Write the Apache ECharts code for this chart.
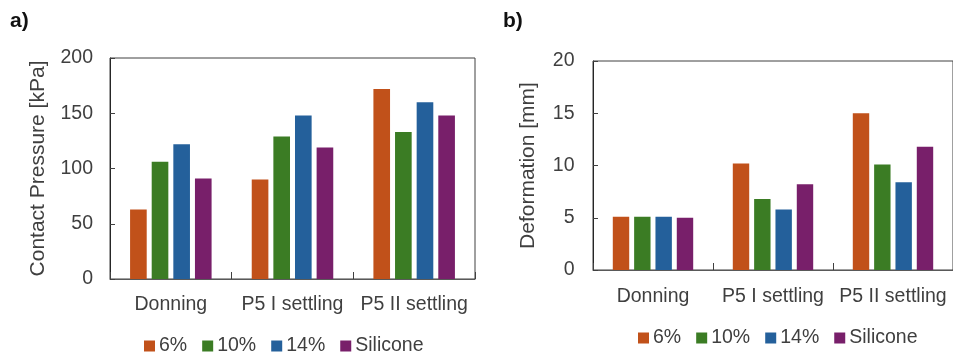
<!DOCTYPE html>
<html>
<head>
<meta charset="utf-8">
<script src="https://cdn.jsdelivr.net/npm/echarts@6/dist/echarts.min.js"></script>
<style>
  html, body { margin: 0; padding: 0; background: #ffffff; }
  #chart { width: 953px; height: 355px; }
</style>
</head>
<body>
<div id="chart"></div>
<script>
// ---- data ----
const categories = ['Donning', 'P5 I settling', 'P5 II settling'];
const seriesNames = ['6%', '10%', '14%', 'Silicone'];

// a) Contact Pressure [kPa]
const pressure6 = [63, 90, 172];
const pressure10 = [106, 129, 133];
const pressure14 = [122, 148, 160];
const pressureSilicone = [91, 119, 148];

// b) Deformation [mm]
const deform6 = [5.1, 10.2, 15.0];
const deform10 = [5.1, 6.8, 10.1];
const deform14 = [5.1, 5.8, 8.4];
const deformSilicone = [5.0, 8.2, 11.8];

const pressureTicks = [0, 50, 100, 150, 200];
const deformTicks = [0, 5, 10, 15, 20];

const colors = ['#C1511A', '#3B7C24', '#24609B', '#781F6A'];

// ---- chart ----
const FONT = 'Liberation Sans, Arial, sans-serif';
const labelColor = '#3f3f3f';
const lineColor = '#404040';

const chart = echarts.init(document.getElementById('chart'), null, { renderer: 'canvas' });

function makeBars(arrays, idx) {
  return arrays.map((d, i) => ({
    name: seriesNames[i],
    type: 'bar',
    xAxisIndex: idx,
    yAxisIndex: idx,
    data: d,
    barGap: '30%',
    barCategoryGap: '33%',
    itemStyle: { color: colors[i] },
    emphasis: { disabled: true },
    animation: false
  }));
}

function xAxisDef(idx, margin) {
  return {
    type: 'category',
    gridIndex: idx,
    data: categories,
    axisLine: { show: true, lineStyle: { color: '#595959', width: 1 } },
    axisTick: { show: true, inside: true, length: 7, lineStyle: { color: lineColor } },
    axisLabel: { interval: 0, margin: margin, fontSize: 19.5, color: labelColor, fontFamily: FONT },
    splitLine: { show: false }
  };
}

function yAxisDef(idx, ticks, name, nameGap, margin) {
  return {
    type: 'value',
    gridIndex: idx,
    min: ticks[0],
    max: ticks[ticks.length - 1],
    interval: ticks[1] - ticks[0],
    name: name,
    nameLocation: 'middle',
    nameGap: nameGap,
    nameTextStyle: { fontSize: 21, color: labelColor, fontFamily: FONT },
    axisLine: { show: true, lineStyle: { color: '#262626', width: 1 } },
    axisTick: { show: true, inside: true, length: 5, lineStyle: { color: lineColor } },
    axisLabel: { margin: margin, fontSize: 19.5, color: labelColor, fontFamily: FONT },
    splitLine: { show: false }
  };
}

const option = {
  backgroundColor: '#ffffff',
  animation: false,
  color: colors,
  title: [
    { text: 'a)', left: 10, top: 11, padding: 0,
      textStyle: { fontSize: 21, fontWeight: 'bold', color: '#111', fontFamily: FONT } },
    { text: 'b)', left: 503, top: 11, padding: 0,
      textStyle: { fontSize: 21, fontWeight: 'bold', color: '#111', fontFamily: FONT } }
  ],
  grid: [
    { left: 110, top: 58, width: 365, height: 221, show: true, borderColor: lineColor, borderWidth: 1, containLabel: false },
    { left: 593, top: 61, width: 367, height: 209, show: true, borderColor: lineColor, borderWidth: 1, containLabel: false }
  ],
  legend: [
    { data: seriesNames, left: 144, top: 336, padding: 0, itemGap: 15, itemWidth: 11, itemHeight: 11,
      icon: 'rect', selectedMode: false,
      textStyle: { fontSize: 19.5, color: labelColor, fontFamily: FONT, padding: [0, 0, 0, -1] } },
    { data: seriesNames, left: 638, top: 328, padding: 0, itemGap: 15, itemWidth: 11, itemHeight: 11,
      icon: 'rect', selectedMode: false,
      textStyle: { fontSize: 19.5, color: labelColor, fontFamily: FONT, padding: [0, 0, 0, -1] } }
  ],
  xAxis: [xAxisDef(0, 16), xAxisDef(1, 17)],
  yAxis: [
    yAxisDef(0, pressureTicks, 'Contact Pressure [kPa]', 61, 17),
    yAxisDef(1, deformTicks, 'Deformation [mm]', 54, 18.5)
  ],
  series: [
    ...makeBars([pressure6, pressure10, pressure14, pressureSilicone], 0),
    ...makeBars([deform6, deform10, deform14, deformSilicone], 1)
  ]
};

chart.setOption(option);
</script>
</body>
</html>
